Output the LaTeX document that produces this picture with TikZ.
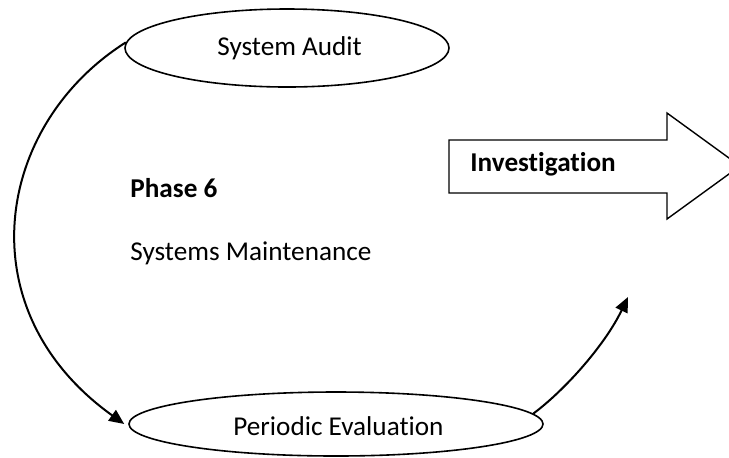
\documentclass[tikz,border=0pt]{standalone}
\usepackage{fontspec}
\setmainfont{Carlito}[Ligatures=NoCommon]
\usetikzlibrary{arrows.meta,shapes.geometric}
\begin{document}
\begin{tikzpicture}[x=0.5pt,y=-0.5pt,
  oval/.style={draw,ellipse,line width=0.8pt,inner sep=0pt},
  flow/.style={line width=1pt,-{Triangle[length=7.5pt,width=6.5pt]}},
  txt/.style={inner sep=0pt,anchor=base west,font=\fontsize{13.6}{16}\selectfont},
  blockarrow/.style={draw,line width=0.7pt,fill=white}]
\useasboundingbox (0,0) rectangle (729,457);
\clip (0,0) rectangle (729,457);
\node[oval,minimum width=162pt,minimum height=39pt] (sa) at (287,48) {};
\node[txt] (satxt) at (217,55) {System Audit};
\node[oval,minimum width=207pt,minimum height=32pt] (pe) at (336,424) {};
\node[txt] (petxt) at (233,435) {Periodic Evaluation};
\node[txt,font=\fontsize{13.6}{16}\selectfont\bfseries] (ph) at (130,197) {Phase 6};
\node[txt] (sm) at (130,260) {Systems Maintenance};
\draw[blockarrow] (449,140) -- (667,140) -- (667,113) -- (740,166) -- (667,219) -- (667,193) -- (449,193) -- cycle;
\node[txt,font=\fontsize{13.6}{16}\selectfont\bfseries] (inv) at (470,171) {Investigation};
\coordinate (tip) at (628,297);
\draw[flow] (sa.178) .. controls (-5,125) and (-35,310) .. ([xshift=-2pt]pe.west);
\draw[flow] (pe.3) .. controls (565,390) and (605,345) .. (tip);
\end{tikzpicture}
\end{document}
